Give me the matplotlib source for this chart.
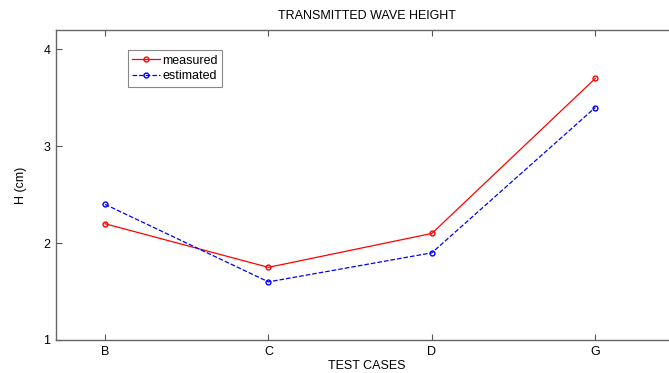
import matplotlib
matplotlib.use("Agg")
import matplotlib.pyplot as plt

# test cases and wave heights (cm)
cases = ["B", "C", "D", "G"]
measured = [2.2, 1.75, 2.1, 3.7]
estimated = [2.4, 1.6, 1.9, 3.4]
yticks = [1, 2, 3, 4]

plt.rcParams['font.family'] = ['Liberation Sans', 'DejaVu Sans']

fig = plt.figure(figsize=(6.69, 3.73), dpi=100)
ax = fig.add_axes([56 / 669, 33 / 373, 621 / 669, 310 / 373])

x = list(range(1, len(cases) + 1))
ax.plot(x, measured, '-', color='red', marker='o', markersize=3.5,
        markerfacecolor='none', linewidth=0.9, label='measured')
ax.plot(x, estimated, '--', color='blue', marker='o', markersize=3.5,
        markerfacecolor='none', linewidth=0.9, label='estimated')

ax.set_xlim(0.7, 4.5)
ax.set_ylim(1, 4.2)
ax.set_xticks(x)
ax.set_xticklabels(cases)
ax.set_yticks(yticks)

ax.tick_params(direction='in', length=4, width=0.8, color='#555555',
               labelsize=9, top=True, pad=4)
for s in ax.spines.values():
    s.set_color('#666666')
    s.set_linewidth(1)
ax.spines['right'].set_visible(False)

ax.set_title("TRANSMITTED WAVE HEIGHT", fontsize=9, pad=8)
ax.set_xlabel("TEST CASES", fontsize=9, labelpad=2)
ax.set_ylabel("H (cm)", fontsize=9, labelpad=12)

leg = ax.legend(loc='upper left', bbox_to_anchor=(0.116, 0.935), fontsize=9,
                fancybox=False, framealpha=1, edgecolor='#888888',
                handlelength=2.2, handletextpad=0.2, borderpad=0.35,
                labelspacing=0.3, borderaxespad=0)
leg.get_frame().set_linewidth(0.8)

fig.savefig("out.png", dpi=100)
